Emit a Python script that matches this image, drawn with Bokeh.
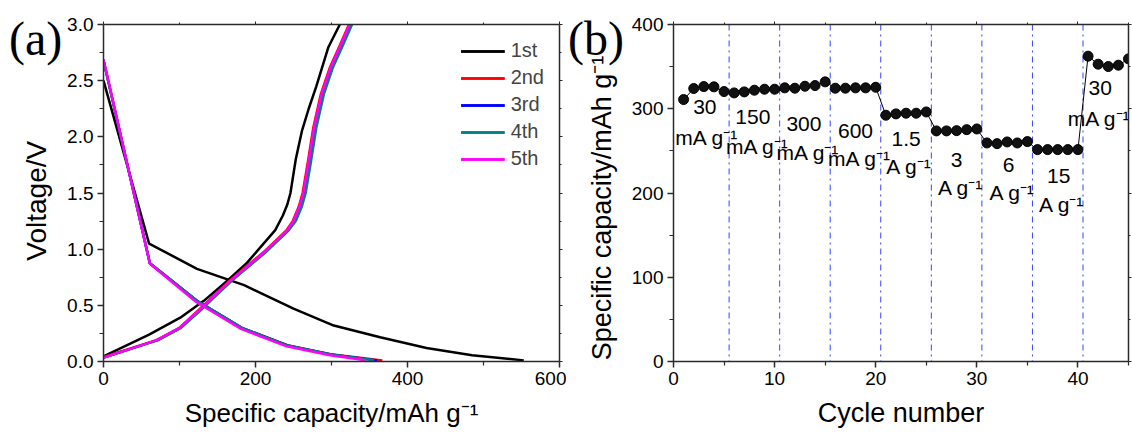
from bokeh.plotting import figure
from bokeh.layouts import row
from bokeh.models import (Range1d, LinearAxis, Span, FixedTicker, Div,
                          NumeralTickFormatter, ColumnDataSource, CustomJSTickFormatter)
from bokeh.embed import file_html
from bokeh.resources import INLINE
from bokeh.core.properties import value

FONT = "Liberation Sans"
NBSP = "\u00a0"

# ---------------- Panel (a) data: voltage profiles ----------------
cycle_names = ["1st", "2nd", "3rd", "4th", "5th"]
cycle_colors = ["#000000", "#ff0000", "#0000ff", "#008080", "#ff00ff"]

dis_cap_1 = [0, 60, 123, 185, 250, 303, 364, 425, 485, 553]
dis_v_1 = [2.50, 1.05, 0.825, 0.68, 0.47, 0.32, 0.216, 0.12, 0.055, 0.01]
chg_cap_1 = [0, 60, 101, 132, 163, 189, 226, 236, 242, 246, 253, 261, 270, 280, 296, 311]
chg_v_1 = [0.045, 0.24, 0.39, 0.54, 0.72, 0.88, 1.17, 1.30, 1.40, 1.50, 1.80, 2.05, 2.25, 2.45, 2.80, 3.00]

dis_cap_2 = [0, 61, 123, 182, 242, 299, 367]
dis_v_2 = [2.68, 0.875, 0.54, 0.30, 0.145, 0.065, 0.01]
chg_cap_2 = [0, 70, 100, 127, 166, 210, 241, 249, 257, 262, 269, 276, 286, 298, 310, 323]
chg_v_2 = [0.04, 0.19, 0.30, 0.47, 0.72, 0.97, 1.17, 1.25, 1.38, 1.50, 1.78, 2.08, 2.38, 2.62, 2.80, 3.00]

dis_cap_3 = [0, 61, 123, 182, 242, 299, 360]
dis_v_3 = [2.68, 0.875, 0.54, 0.30, 0.143, 0.063, 0.01]
chg_cap_3 = [0, 71, 101, 129, 168, 212, 243, 251, 259, 264, 271, 278, 288, 300, 312, 325]
chg_v_3 = [0.035, 0.19, 0.30, 0.47, 0.72, 0.97, 1.17, 1.25, 1.38, 1.50, 1.78, 2.08, 2.38, 2.62, 2.80, 3.00]

dis_cap_4 = [0, 61, 123, 182, 242, 299, 356]
dis_v_4 = [2.68, 0.875, 0.54, 0.30, 0.142, 0.062, 0.012]
chg_cap_4 = [0, 72, 102, 130, 169, 213, 244, 253, 261, 266, 273, 280, 290, 302, 314, 327]
chg_v_4 = [0.035, 0.19, 0.30, 0.47, 0.72, 0.97, 1.17, 1.25, 1.38, 1.50, 1.78, 2.08, 2.38, 2.62, 2.80, 3.00]

dis_cap_5 = [0, 61, 122, 181, 241, 298, 345]
dis_v_5 = [2.69, 0.87, 0.53, 0.29, 0.135, 0.055, 0.012]
chg_cap_5 = [0, 70, 100, 128, 167, 211, 242, 250, 258, 263, 270, 277, 287, 299, 311, 324]
chg_v_5 = [0.035, 0.19, 0.30, 0.47, 0.72, 0.97, 1.17, 1.25, 1.38, 1.50, 1.78, 2.08, 2.38, 2.62, 2.80, 3.00]

dis_caps = [dis_cap_1, dis_cap_2, dis_cap_3, dis_cap_4, dis_cap_5]
dis_vs = [dis_v_1, dis_v_2, dis_v_3, dis_v_4, dis_v_5]
chg_caps = [chg_cap_1, chg_cap_2, chg_cap_3, chg_cap_4, chg_cap_5]
chg_vs = [chg_v_1, chg_v_2, chg_v_3, chg_v_4, chg_v_5]

a_xticks = [0, 200, 400, 600]
a_xminor = [100, 300, 500]
a_yticks = [0.0, 0.5, 1.0, 1.5, 2.0, 2.5, 3.0]
a_yminor = [0.25, 0.75, 1.25, 1.75, 2.25, 2.75]

# ---------------- Panel (b) data: rate capability ----------------
cycles = list(range(1, 46))
capacity = [310.9, 324.0, 326.3, 326.0, 320.4, 318.8, 320.0, 322.0, 323.2, 323.2,
            324.8, 324.4, 326.7, 327.5, 331.9, 324.4, 324.4, 324.8, 324.8, 325.5,
            292.3, 293.9, 294.7, 294.7, 296.2, 273.7, 273.7, 274.0, 275.2, 276.0,
            259.4, 258.6, 260.6, 259.4, 261.0, 251.5, 251.5, 251.5, 251.5, 251.5,
            362.4, 352.9, 350.1, 351.7, 359.2]
rate_boundaries = [5.5, 10.5, 15.5, 20.5, 25.5, 30.5, 35.5, 40.5]
rate_values = ["30", "150", "300", "600", "1.5", "3", "6", "15", "30"]
rate_units = ["mA g\u207b\u00b9", "mA g\u207b\u00b9", "mA g\u207b\u00b9", "mA g\u207b\u00b9",
              "A g\u207b\u00b9", "A g\u207b\u00b9", "A g\u207b\u00b9", "A g\u207b\u00b9",
              "mA g\u207b\u00b9"]
value_x = [3.1, 7.85, 12.9, 18.0, 23.0, 28.0, 33.15, 38.1, 42.2]
value_y = [302, 290, 282, 274, 264, 239, 233, 220, 325]
unit_x = [3.3, 8.3, 13.3, 18.4, 23.3, 28.4, 33.5, 38.4, 42.1]
unit_y = [266, 255, 248, 241, 231, 207, 201, 186, 288]

b_xticks = [0, 10, 20, 30, 40]
b_xminor = [5, 15, 25, 35, 45]
b_yticks = [0, 100, 200, 300, 400]
b_yminor = [50, 150, 250, 350]

panel_tags = ["(a)", "(b)"]

AXIS_COLOR = "#2a2a2a"


def style_axis(ax, title_size):
    ax.axis_line_color = AXIS_COLOR
    ax.axis_line_width = 1.5
    ax.major_tick_line_color = AXIS_COLOR
    ax.major_tick_line_width = 1.5
    ax.minor_tick_line_color = AXIS_COLOR
    ax.minor_tick_line_width = 1.2
    ax.major_tick_in = 0
    ax.major_tick_out = 6
    ax.minor_tick_in = 0
    ax.minor_tick_out = 4
    ax.major_label_text_font = FONT
    ax.major_label_text_font_size = "19px"
    ax.major_label_text_color = "black"
    ax.major_label_standoff = 4
    ax.axis_label_text_font = FONT
    ax.axis_label_text_font_size = title_size
    ax.axis_label_text_font_style = "normal"
    ax.axis_label_text_color = "black"


def mirror_axis(p, ticker, side):
    ax = LinearAxis(ticker=ticker, formatter=CustomJSTickFormatter(code="return ''"))
    ax.axis_line_color = AXIS_COLOR
    ax.axis_line_width = 1.5
    ax.major_tick_line_color = AXIS_COLOR
    ax.minor_tick_line_color = AXIS_COLOR
    ax.major_tick_in = 0
    ax.major_tick_out = 3
    ax.minor_tick_in = 0
    ax.minor_tick_out = 2
    ax.major_label_text_font_size = "1px"
    ax.major_label_standoff = 0
    p.add_layout(ax, side)


def tag_div(text, left, top):
    return Div(text=text,
               styles={"position": "absolute", "left": f"{left}px", "top": f"{top}px",
                       "font-family": "Liberation Serif", "font-size": "48px",
                       "line-height": "1", "color": "black", "z-index": "10"})


# ---------------- Figure (a) ----------------
pa = figure(width=566, height=438, output_backend="svg", toolbar_location=None,
            x_range=Range1d(0, 600), y_range=Range1d(0, 3.0),
            min_border_left=103, min_border_right=7, min_border_top=24, min_border_bottom=77)
pa.outline_line_color = None
pa.grid.visible = False

for i in range(5):
    pa.line(dis_caps[i], dis_vs[i], line_color=cycle_colors[i], line_width=2.5,
            legend_label=cycle_names[i])
    pa.line(chg_caps[i], chg_vs[i], line_color=cycle_colors[i], line_width=2.5,
            legend_label=cycle_names[i])

pa.xaxis.ticker = FixedTicker(ticks=a_xticks, minor_ticks=a_xminor)
pa.yaxis.ticker = FixedTicker(ticks=a_yticks, minor_ticks=a_yminor)
pa.yaxis.formatter = NumeralTickFormatter(format="0.0")
pa.xaxis.axis_label = "Specific capacity/mAh g\u207b\u00b9"
pa.yaxis.axis_label = "Voltage/V" + NBSP * 2
style_axis(pa.xaxis[0], "26px")
style_axis(pa.yaxis[0], "28px")
pa.xaxis.axis_label_standoff = 10
pa.yaxis.axis_label_standoff = 12
mirror_axis(pa, FixedTicker(ticks=a_xticks, minor_ticks=a_xminor), "above")
mirror_axis(pa, FixedTicker(ticks=a_yticks, minor_ticks=a_yminor), "right")

lg = pa.legend[0]
lg.location = "top_right"
lg.border_line_color = None
lg.background_fill_alpha = 0
lg.label_text_font = FONT
lg.label_text_font_size = "20px"
lg.glyph_width = 44
lg.glyph_height = 20
lg.label_height = 20
lg.spacing = 4
lg.padding = 0
lg.margin = 15
lg.label_standoff = 6

# ---------------- Figure (b) ----------------
pb = figure(width=566, height=438, output_backend="svg", toolbar_location=None,
            x_range=Range1d(0, 45), y_range=Range1d(0, 400),
            min_border_left=107, min_border_right=4, min_border_top=24, min_border_bottom=77)
pb.outline_line_color = None
pb.grid.visible = False

for b in rate_boundaries:
    pb.add_layout(Span(location=b, dimension="height", line_color="#3344ff",
                       line_width=1, line_dash="dashdot", level="underlay"))

pb.line(cycles, capacity, line_color="black", line_width=1)
pb.scatter(cycles, capacity, size=10, fill_color="#111111", line_color="black", line_width=1)

src_v = ColumnDataSource(dict(x=value_x, y=value_y, t=rate_values))
src_u = ColumnDataSource(dict(x=unit_x, y=unit_y, t=rate_units))
for src in (src_v, src_u):
    pb.text(x="x", y="y", text="t", source=src, text_font=value(FONT),
            text_font_size="21px", text_align="center", text_baseline="middle",
            text_color="black")

pb.xaxis.ticker = FixedTicker(ticks=b_xticks, minor_ticks=b_xminor)
pb.yaxis.ticker = FixedTicker(ticks=b_yticks, minor_ticks=b_yminor)
pb.xaxis.axis_label = "Cycle number"
pb.yaxis.axis_label = "Specific capacity/mAh g\u207b\u00b9" + NBSP * 4
style_axis(pb.xaxis[0], "27px")
style_axis(pb.yaxis[0], "27px")
pb.xaxis.axis_label_standoff = 10
pb.yaxis.axis_label_standoff = 12
mirror_axis(pb, FixedTicker(ticks=b_xticks, minor_ticks=b_xminor), "above")
mirror_axis(pb, FixedTicker(ticks=b_yticks, minor_ticks=b_yminor), "right")

layout = row(pa, pb, tag_div(panel_tags[0], 4, 10), tag_div(panel_tags[1], 563, 10))
open("out.html", "w").write(file_html(layout, INLINE))
